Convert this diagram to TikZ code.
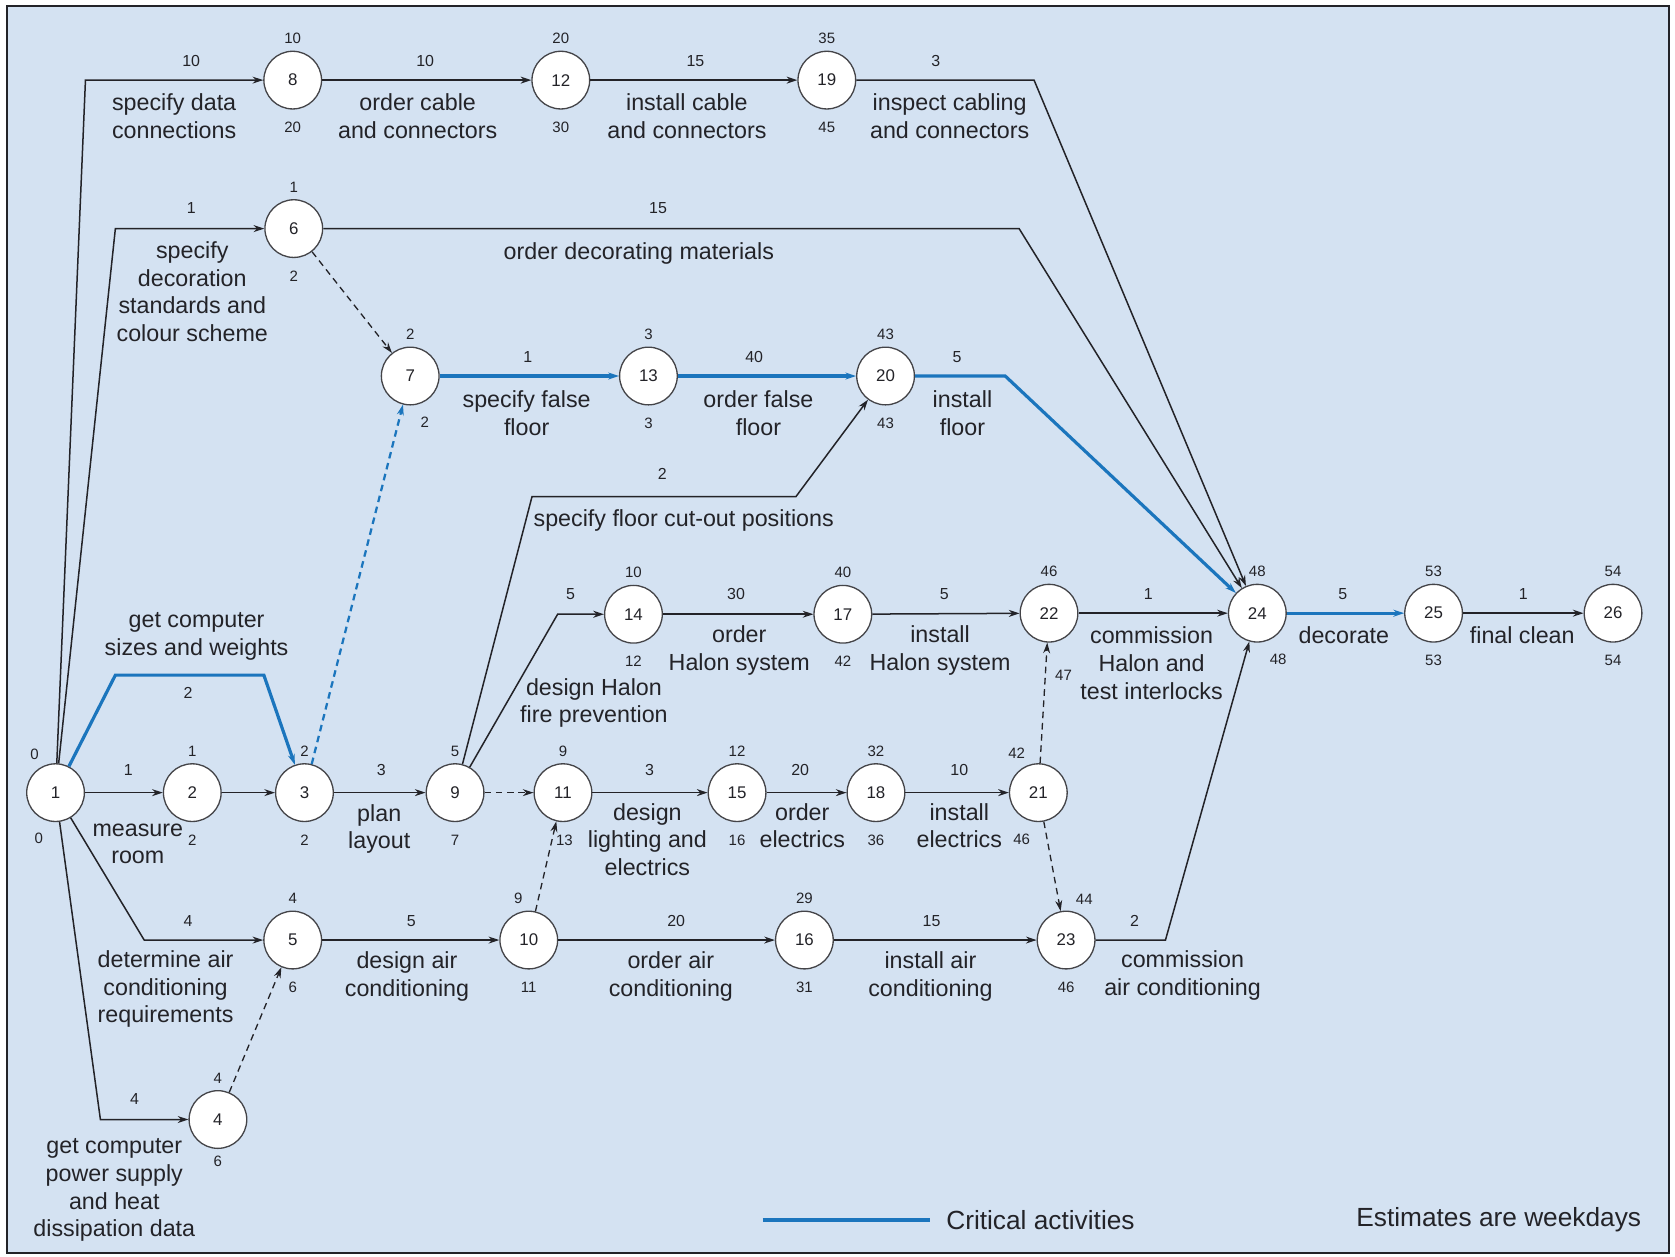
\documentclass[tikz,border=0pt]{standalone}
\usepackage{fontspec}
\setmainfont{Liberation Sans}
\usetikzlibrary{arrows.meta}
\definecolor{panelblue}{RGB}{212,226,242}
\definecolor{critblue}{RGB}{27,117,189}
\definecolor{inkgray}{RGB}{35,35,40}
\tikzset{
    evnode/.style={circle, draw=inkgray!85, line width=0.7pt, fill=white, minimum size=1.08cm,
        inner sep=0pt, font=\fontsize{9}{10}\selectfont, text=inkgray},
    tmup/.style={font=\fontsize{8}{9}\selectfont, inner sep=0.5pt, label distance=3pt, text=inkgray},
    tmdn/.style={tmup, label distance=6pt},
    durnum/.style={font=\fontsize{8.5}{10}\selectfont, inner sep=0pt, text=inkgray},
    actdesc/.style={align=center, font=\fontsize{12.4}{14.8}\selectfont, inner sep=0pt, text=inkgray},
    legtext/.style={font=\fontsize{14}{16}\selectfont, inner sep=0pt, text=inkgray},
    actarrow/.style={-{Stealth[length=2mm, width=1.3mm]}, draw=inkgray, line width=0.8pt},
    critarrow/.style={actarrow, draw=critblue, line width=1.7pt},
    dummyarrow/.style={actarrow, dash pattern=on 3.5pt off 2.5pt, line width=0.7pt},
    critdummy/.style={dummyarrow, draw=critblue, line width=1.2pt}
}

\begin{document}
\begin{tikzpicture}[x=0.02cm, y=-0.02cm]
\useasboundingbox (0,0) rectangle (1568,1176);
\fill[white] (0,0) rectangle (1568,1176);
\draw[draw=inkgray, line width=1.1pt, fill=panelblue] (6.5,5.5) rectangle (1562.5,1173);

\node[evnode, label={[tmup]116:0}, label={[tmdn]-106:0}] (n1) at (52,742) {1};
\node[evnode, label={[tmup]above:1}, label={[tmdn]below:2}] (n2) at (180,742) {2};
\node[evnode, label={[tmup]above:2}, label={[tmdn]below:2}] (n3) at (285,742) {3};
\node[evnode, label={[tmup]above:4}, label={[tmup]below:6}] (n4) at (204,1048) {4};
\node[evnode, label={[tmup]above:4}, label={[tmdn]below:6}] (n5) at (274,880) {5};
\node[evnode, label={[tmup]above:1}, label={[tmdn]below:2}] (n6) at (275,214) {6};
\node[evnode, label={[tmup]above:2}, label={[tmdn]-77:2}] (n7) at (384,352) {7};
\node[evnode, label={[tmup]above:10}, label={[tmdn]below:20}] (n8) at (274,75) {8};
\node[evnode, label={[tmup]above:5}, label={[tmdn]below:7}] (n9) at (426,742) {9};
\node[evnode, label={[tmup]98:9}, label={[tmdn]below:11}] (n10) at (495,880) {10};
\node[evnode, label={[tmup]above:9}, label={[tmdn]-88:13}] (n11) at (527,742) {11};
\node[evnode, label={[tmup]above:20}, label={[tmdn]below:30}] (n12) at (525,75) {12};
\node[evnode, label={[tmup]above:3}, label={[tmdn]below:3}] (n13) at (607,352) {13};
\node[evnode, label={[tmup]above:10}, label={[tmdn]below:12}] (n14) at (593,575) {14};
\node[evnode, label={[tmup]above:12}, label={[tmdn]below:16}] (n15) at (690,742) {15};
\node[evnode, label={[tmup]above:29}, label={[tmdn]below:31}] (n16) at (753,880) {16};
\node[evnode, label={[tmup]above:40}, label={[tmdn]below:42}] (n17) at (789,575) {17};
\node[evnode, label={[tmup]above:32}, label={[tmdn]below:36}] (n18) at (820,742) {18};
\node[evnode, label={[tmup]110:42}, label={[tmdn]-100:46}] (n21) at (972,742) {21};
\node[evnode, label={[tmup]above:35}, label={[tmdn]below:45}] (n19) at (774,75) {19};
\node[evnode, label={[tmup]above:43}, label={[tmdn]below:43}] (n20) at (829,352) {20};
\node[evnode, label={[tmup]above:46}, label={[tmup, label distance=14pt]-85:47}] (n22) at (982,574) {22};
\node[evnode, label={[tmup]76:44}, label={[tmdn]below:46}] (n23) at (998,880) {23};
\node[evnode, label={[tmup]above:48}, label={[tmdn]-74:48}] (n24) at (1177,574) {24};
\node[evnode, label={[tmup]above:53}, label={[tmdn]below:53}] (n25) at (1342,574) {25};
\node[evnode, label={[tmup]above:54}, label={[tmdn]below:54}] (n26) at (1510,574) {26};

\draw[actarrow] (n1) -- (80,75) -- (n8);
\node[durnum] (d-1-8) at (179,57) {10};
\node[actdesc] (a-1-8) at (163,109) {specify data\\connections};
\draw[actarrow] (n8) -- (n12);
\node[durnum] (d-8-12) at (398,57) {10};
\node[actdesc] (a-8-12) at (391,109) {order cable\\and connectors};
\draw[actarrow] (n12) -- (n19);
\node[durnum] (d-12-19) at (651,57) {15};
\node[actdesc] (a-12-19) at (643,109) {install cable\\and connectors};
\draw[actarrow] (n19) -- (968,75) -- (n24);
\node[durnum] (d-19-24) at (876,57) {3};
\node[actdesc] (a-19-24) at (889,109) {inspect cabling\\and connectors};

\draw[actarrow] (n1) -- (108,214) -- (n6);
\node[durnum] (d-1-6) at (179,195) {1};
\node[actdesc] (a-1-6) at (180,273) {specify\\decoration\\standards and\\colour scheme};
\draw[actarrow] (n6) -- (954,214) -- (n24);
\node[durnum] (d-6-24) at (616,195) {15};
\node[actdesc] (a-6-24) at (598,237) {order decorating materials};
\draw[dummyarrow] (n6) -- (n7);

\draw[critarrow] (n7) -- (n13);
\node[durnum] (d-7-13) at (494,334) {1};
\node[actdesc] (a-7-13) at (493,387) {specify false\\floor};
\draw[critarrow] (n13) -- (n20);
\node[durnum] (d-13-20) at (706,334) {40};
\node[actdesc] (a-13-20) at (710,387) {order false\\floor};
\draw[critarrow] (n20) -- (941,352) -- (n24);
\node[durnum] (d-20-24) at (896,334) {5};
\node[actdesc] (a-20-24) at (901,387) {install\\floor};

\draw[critarrow] (n1) -- (108,632) -- (247,632) -- (n3);
\node[durnum] (d-1-3) at (176,649) {2};
\node[actdesc] (a-1-3) at (184,596) {get computer\\sizes and weights};
\draw[actarrow] (n1) -- (n2);
\node[durnum] (d-1-2) at (120,721) {1};
\node[actdesc] (a-1-2) at (129,790) {measure\\room};
\draw[actarrow] (n2) -- (n3);
\draw[critdummy] (n3) -- (n7);
\draw[actarrow] (n3) -- (n9);
\node[durnum] (d-3-9) at (357,721) {3};
\node[actdesc] (a-3-9) at (355,776) {plan\\layout};
\draw[dummyarrow] (n9) -- (n11);

\draw[actarrow] (n9) -- (498,465) -- (745,465) -- (n20);
\node[durnum] (d-9-20) at (620,444) {2};
\node[actdesc] (a-9-20) at (640,487) {specify floor cut-out positions};
\draw[actarrow] (n9) -- (522,575) -- (n14);
\node[durnum] (d-9-14) at (534,556) {5};
\node[actdesc] (a-9-14) at (556,658) {design Halon\\fire prevention};
\draw[actarrow] (n14) -- (n17);
\node[durnum] (d-14-17) at (689,556) {30};
\node[actdesc] (a-14-17) at (692,609) {order\\Halon system};
\draw[actarrow] (n17) -- (n22);
\node[durnum] (d-17-22) at (884,556) {5};
\node[actdesc] (a-17-22) at (880,609) {install\\Halon system};
\draw[actarrow] (n22) -- (n24);
\node[durnum] (d-22-24) at (1075,556) {1};
\node[actdesc] (a-22-24) at (1078,621) {commission\\Halon and\\test interlocks};
\draw[critarrow] (n24) -- (n25);
\node[durnum] (d-24-25) at (1257,556) {5};
\node[actdesc] (a-24-25) at (1258,595) {decorate};
\draw[actarrow] (n25) -- (n26);
\node[durnum] (d-25-26) at (1426,556) {1};
\node[actdesc] (a-25-26) at (1425,595) {final clean};

\draw[actarrow] (n11) -- (n15);
\node[durnum] (d-11-15) at (608,721) {3};
\node[actdesc] (a-11-15) at (606,786) {design\\lighting and\\electrics};
\draw[actarrow] (n15) -- (n18);
\node[durnum] (d-15-18) at (749,721) {20};
\node[actdesc] (a-15-18) at (751,773) {order\\electrics};
\draw[actarrow] (n18) -- (n21);
\node[durnum] (d-18-21) at (898,721) {10};
\node[actdesc] (a-18-21) at (898,773) {install\\electrics};
\draw[dummyarrow] (n21) -- (n22);
\draw[dummyarrow] (n21) -- (n23);

\draw[actarrow] (n1) -- (135,880) -- (n5);
\node[durnum] (d-1-5) at (176,862) {4};
\node[actdesc] (a-1-5) at (155,926) {determine air\\conditioning\\requirements};
\draw[actarrow] (n1) -- (94,1048) -- (n4);
\node[durnum] (d-1-4) at (126,1029) {4};
\node[actdesc] (a-1-4) at (107,1114) {get computer\\power supply\\and heat\\dissipation data};
\draw[dummyarrow] (n4) -- (n5);
\draw[actarrow] (n5) -- (n10);
\node[durnum] (d-5-10) at (385,862) {5};
\node[actdesc] (a-5-10) at (381,914) {design air\\conditioning};
\draw[dummyarrow] (n10) -- (n11);
\draw[actarrow] (n10) -- (n16);
\node[durnum] (d-10-16) at (633,862) {20};
\node[actdesc] (a-10-16) at (628,914) {order air\\conditioning};
\draw[actarrow] (n16) -- (n23);
\node[durnum] (d-16-23) at (872,862) {15};
\node[actdesc] (a-16-23) at (871,914) {install air\\conditioning};
\draw[actarrow] (n23) -- (1091,880) -- (n24);
\node[durnum] (d-23-24) at (1062,862) {2};
\node[actdesc] (a-23-24) at (1107,913) {commission\\air conditioning};

\coordinate (leg-a) at (714,1142);
\coordinate (leg-b) at (871,1142);
\draw[critblue, line width=2pt] (leg-a) -- (leg-b);
\node[legtext] (leg-crit) at (974,1142) {Critical activities};
\node[legtext] (leg-est) at (1403,1142) {Estimates are weekdays};
\end{tikzpicture}
\end{document}
